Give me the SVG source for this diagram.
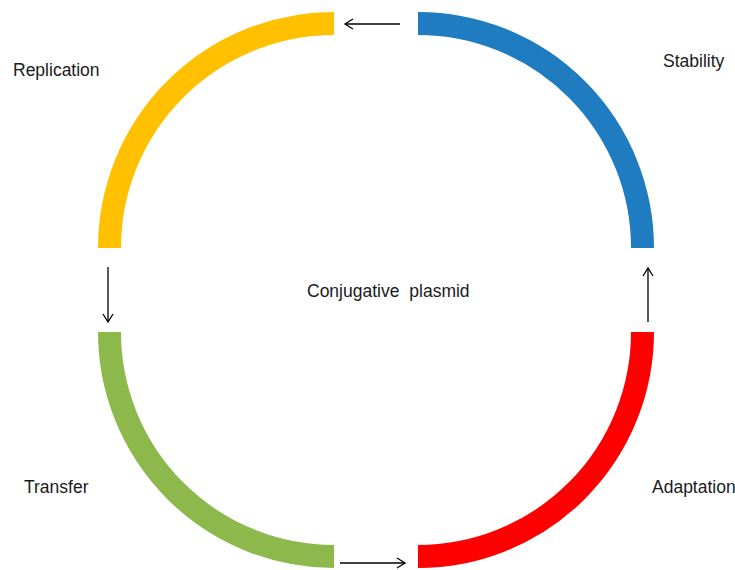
<svg xmlns="http://www.w3.org/2000/svg" width="735" height="570" viewBox="0 0 735 570">
<defs>
<marker id="ah" markerUnits="userSpaceOnUse" markerWidth="12" markerHeight="12" refX="9" refY="6" orient="auto">
<path d="M1,1 L9,6 L1,11" fill="none" stroke="#000" stroke-width="1.3"/>
</marker>
<style>
.arc{fill:none;stroke-width:23;stroke-linecap:butt}
.lbl{font-family:"Liberation Sans",Arial,sans-serif;font-size:17.5px;fill:#1a1a1a}
.con{fill:none;stroke:#000;stroke-width:1.3;marker-end:url(#ah)}
</style>
</defs>
<rect width="735" height="570" fill="#fff"/>
<g id="replication">
<path class="arc" stroke="#FFC000" d="M334,23.5 A224.5,224.5 0 0 0 109.5,248"/>
<text class="lbl" x="13" y="76">Replication</text>
</g>
<g id="stability">
<path class="arc" stroke="#1F7CC0" d="M418,23.5 A224.5,224.5 0 0 1 642.5,248"/>
<text class="lbl" x="663" y="67">Stability</text>
</g>
<g id="transfer">
<path class="arc" stroke="#8DB84C" d="M109.5,332 A224.5,224.5 0 0 0 334,556.5"/>
<text class="lbl" x="24" y="493">Transfer</text>
</g>
<g id="adaptation">
<path class="arc" stroke="#FF0000" d="M418,556.5 A224.5,224.5 0 0 0 642.5,332"/>
<text class="lbl" x="652" y="493">Adaptation</text>
</g>
<g id="center">
<text class="lbl" x="307" y="297" word-spacing="5">Conjugative plasmid</text>
</g>
<g id="connectors">
<line class="con" x1="400" y1="24" x2="345" y2="24"/>
<line class="con" x1="108" y1="267" x2="108" y2="322"/>
<line class="con" x1="340" y1="563" x2="405" y2="563"/>
<line class="con" x1="648" y1="322" x2="648" y2="268"/>
</g>
</svg>
